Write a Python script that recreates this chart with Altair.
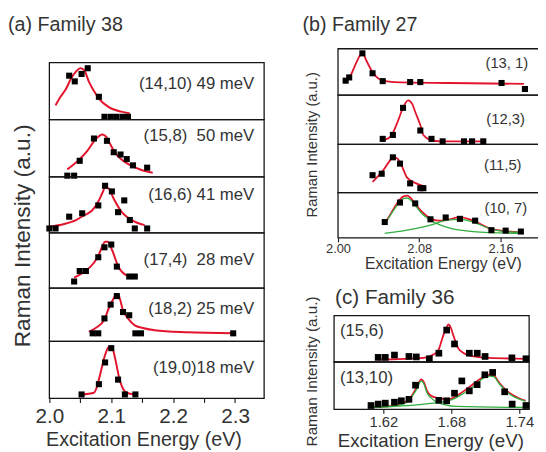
import altair as alt
import pandas as pd

FONT = "Liberation Sans"
RED = "#e3132c"
GREEN = "#2fae3f"
INK = "#333333"
FRAME = "#151515"

# ---------------- data: panel (a) Family 38 ----------------
a_labels = ["(14,10) 49 meV", "(15,8)\u00a0 50 meV", "(16,6) 41 meV",
            "(17,4)\u00a0 28 meV", "(18,2) 25 meV", "(19,0)18 meV"]

a1_pts_E = [2.032, 2.041, 2.052, 2.062, 2.080, 2.089, 2.099, 2.108, 2.118, 2.127]
a1_pts_I = [0.77, 0.67, 0.80, 0.90, 0.40, 0.05, 0.05, 0.05, 0.05, 0.05]
a1_fit_E = [2.010, 2.018, 2.027, 2.035, 2.043, 2.050, 2.056, 2.064, 2.072, 2.080, 2.096, 2.116, 2.130]
a1_fit_I = [0.25, 0.40, 0.54, 0.72, 0.84, 0.90, 0.87, 0.66, 0.50, 0.37, 0.22, 0.14, 0.11]

a2_pts_E = [2.029, 2.040, 2.049, 2.072, 2.093, 2.104, 2.115, 2.125, 2.135, 2.158]
a2_pts_I = [0.02, 0.02, 0.28, 0.67, 0.63, 0.43, 0.39, 0.31, 0.20, 0.16]
a2_fit_E = [2.029, 2.049, 2.061, 2.072, 2.080, 2.085, 2.091, 2.096, 2.106, 2.119, 2.133, 2.151, 2.167]
a2_fit_I = [0.13, 0.31, 0.45, 0.62, 0.71, 0.74, 0.71, 0.62, 0.42, 0.28, 0.19, 0.11, 0.07]

a3_pts_E = [2.000, 2.010, 2.032, 2.053, 2.079, 2.090, 2.101, 2.111, 2.121, 2.130, 2.138, 2.158]
a3_pts_I = [0.08, 0.08, 0.29, 0.35, 0.49, 0.84, 0.74, 0.37, 0.58, 0.23, 0.08, 0.08]
a3_fit_E = [2.000, 2.024, 2.043, 2.057, 2.069, 2.080, 2.086, 2.090, 2.096, 2.104, 2.117, 2.133, 2.154]
a3_fit_I = [0.11, 0.16, 0.23, 0.32, 0.40, 0.58, 0.72, 0.81, 0.79, 0.61, 0.37, 0.23, 0.14]

a4_pts_E = [2.040, 2.049, 2.059, 2.079, 2.089, 2.100, 2.109, 2.129, 2.138]
a4_pts_I = [0.12, 0.31, 0.31, 0.56, 0.74, 0.79, 0.39, 0.21, 0.21]
a4_fit_E = [2.040, 2.058, 2.072, 2.080, 2.086, 2.090, 2.094, 2.101, 2.111, 2.125, 2.141]
a4_fit_I = [0.19, 0.31, 0.46, 0.61, 0.77, 0.84, 0.84, 0.70, 0.40, 0.23, 0.19]

a5_pts_E = [2.070, 2.079, 2.089, 2.099, 2.109, 2.119, 2.129, 2.139, 2.148, 2.297]
a5_pts_I = [0.15, 0.15, 0.43, 0.69, 0.85, 0.55, 0.49, 0.15, 0.15, 0.15]
a5_fit_E = [2.064, 2.076, 2.088, 2.097, 2.104, 2.109, 2.113, 2.119, 2.127, 2.138, 2.151, 2.170, 2.223, 2.297]
a5_fit_I = [0.18, 0.26, 0.39, 0.65, 0.81, 0.89, 0.83, 0.58, 0.43, 0.30, 0.25, 0.21, 0.17, 0.15]

a6_pts_E = [2.052, 2.080, 2.090, 2.100, 2.111, 2.122, 2.139]
a6_pts_I = [0.07, 0.25, 0.63, 0.88, 0.33, 0.07, 0.07]
a6_fit_E = [2.053, 2.072, 2.077, 2.082, 2.090, 2.095, 2.098, 2.102, 2.106, 2.114, 2.119, 2.125, 2.138]
a6_fit_I = [0.07, 0.10, 0.21, 0.42, 0.76, 0.89, 0.91, 0.88, 0.71, 0.31, 0.17, 0.10, 0.07]

a_ticks = [2.0, 2.05, 2.1, 2.15, 2.2, 2.25, 2.3]

# ---------------- data: panel (b) Family 27 ----------------
b_labels = ["(13, 1)", "(12,3)", "(11,5)", "(10, 7)"]

b1_pts_E = [2.0075, 2.011, 2.024, 2.034, 2.044, 2.071, 2.081, 2.161, 2.184]
b1_pts_I = [0.31, 0.38, 0.90, 0.47, 0.30, 0.28, 0.28, 0.26, 0.13]
b1_fit_E = [2.005, 2.009, 2.013, 2.018, 2.024, 2.028, 2.033, 2.042, 2.055, 2.110, 2.183]
b1_fit_I = [0.28, 0.34, 0.45, 0.70, 0.91, 0.74, 0.53, 0.33, 0.28, 0.26, 0.24]

b2_pts_E = [2.044, 2.054, 2.064, 2.081, 2.092, 2.103, 2.124, 2.132, 2.143]
b2_pts_I = [0.11, 0.19, 0.74, 0.28, 0.11, 0.06, 0.06, 0.06, 0.06]
b2_fit_E = [2.046, 2.052, 2.058, 2.064, 2.069, 2.073, 2.076, 2.081, 2.084, 2.091, 2.101, 2.143]
b2_fit_I = [0.09, 0.16, 0.42, 0.74, 0.89, 0.82, 0.66, 0.39, 0.19, 0.09, 0.06, 0.06]

b3_pts_E = [2.034, 2.043, 2.054, 2.061, 2.071, 2.081, 2.084]
b3_pts_I = [0.36, 0.39, 0.73, 0.60, 0.19, 0.09, 0.09]
b3_fit_E = [2.034, 2.039, 2.044, 2.050, 2.054, 2.058, 2.062, 2.068, 2.078, 2.086]
b3_fit_I = [0.22, 0.33, 0.45, 0.63, 0.73, 0.71, 0.59, 0.31, 0.18, 0.12]

b4_pts_E = [2.046, 2.061, 2.076, 2.091, 2.106, 2.120, 2.135, 2.151, 2.165, 2.180]
b4_pts_I = [0.35, 0.78, 0.76, 0.41, 0.45, 0.42, 0.38, 0.17, 0.16, 0.14]
b4_fit_E = [2.046, 2.050, 2.055, 2.061, 2.065, 2.068, 2.071, 2.076, 2.082, 2.091, 2.099,
            2.108, 2.120, 2.128, 2.136, 2.149, 2.164, 2.180]
b4_fit_I = [0.32, 0.46, 0.65, 0.85, 0.92, 0.93, 0.89, 0.75, 0.59, 0.43, 0.38,
            0.40, 0.46, 0.42, 0.35, 0.21, 0.15, 0.12]
b4_g1_E = [2.046, 2.050, 2.055, 2.061, 2.065, 2.068, 2.071, 2.076, 2.082, 2.091, 2.101, 2.111, 2.133, 2.180]
b4_g1_I = [0.32, 0.45, 0.62, 0.80, 0.87, 0.88, 0.84, 0.72, 0.55, 0.39, 0.28, 0.21, 0.14, 0.10]
b4_g2_E = [2.046, 2.068, 2.091, 2.107, 2.120, 2.133, 2.149, 2.164, 2.180]
b4_g2_I = [0.10, 0.17, 0.28, 0.39, 0.41, 0.35, 0.21, 0.14, 0.12]

b_ticks = [2.00, 2.08, 2.16]

# ---------------- data: panel (c) Family 36 ----------------
c_labels = ["(15,6)", "(13,10)"]

c1_pts_E = [1.6154, 1.6217, 1.6298, 1.6426, 1.6491, 1.6606, 1.6690, 1.6759, 1.6828,
            1.6959, 1.7029, 1.7098, 1.7335, 1.7459]
c1_pts_I = [0.10, 0.10, 0.15, 0.12, 0.11, 0.07, 0.19, 0.69, 0.39, 0.19, 0.19, 0.12, 0.09, 0.07]
c1_fit_E = [1.6150, 1.6557, 1.6643, 1.6687, 1.6730, 1.6757, 1.6774, 1.6796, 1.6817,
            1.6861, 1.6904, 1.6963, 1.7137, 1.7455]
c1_fit_I = [0.05, 0.09, 0.16, 0.26, 0.58, 0.74, 0.81, 0.74, 0.58, 0.30, 0.20, 0.14, 0.09, 0.07]

c2_pts_E = [1.6091, 1.6154, 1.6217, 1.6298, 1.6359, 1.6426, 1.6484, 1.6690, 1.6759,
            1.6828, 1.6893, 1.6959, 1.7028, 1.7096, 1.7165, 1.7271, 1.7337, 1.7459]
c2_pts_I = [0.08, 0.11, 0.13, 0.15, 0.18, 0.21, 0.51, 0.19, 0.18,
            0.34, 0.60, 0.39, 0.52, 0.73, 0.78, 0.37, 0.11, 0.08]
c2_fit_E = [1.6093, 1.6296, 1.6411, 1.6452, 1.6484, 1.6513, 1.6533, 1.6557, 1.6585, 1.6626,
            1.6672, 1.6774, 1.6876, 1.6991, 1.7061, 1.7107, 1.7150, 1.7183, 1.7223, 1.7310,
            1.7383, 1.7455]
c2_fit_I = [0.04, 0.08, 0.18, 0.29, 0.42, 0.56, 0.63, 0.58, 0.39, 0.28,
            0.24, 0.21, 0.33, 0.53, 0.65, 0.70, 0.74, 0.70, 0.56, 0.35,
            0.25, 0.18]
c2_g1_E = [1.6093, 1.6296, 1.6411, 1.6452, 1.6493, 1.6513, 1.6533, 1.6557, 1.6585, 1.6626,
           1.6672, 1.6846, 1.7455]
c2_g1_I = [0.04, 0.07, 0.15, 0.27, 0.42, 0.52, 0.60, 0.54, 0.35, 0.23, 0.15, 0.06, 0.04]
c2_g2_E = [1.6093, 1.6557, 1.6789, 1.6904, 1.7020, 1.7078, 1.7137, 1.7174, 1.7223, 1.7310,
           1.7383, 1.7455]
c2_g2_I = [0.04, 0.11, 0.19, 0.33, 0.53, 0.65, 0.70, 0.69, 0.54, 0.33, 0.23, 0.17]

c_ticks = [1.62, 1.68, 1.74]

# ---------------- layout (pixels inside the chart) ----------------
W, H = 538, 444
A_DOM, A_XR = [2.0, 2.347], [42, 260]
A_Y = [52, 110, 168, 225, 281, 335, 393]
B_DOM, B_XR = [2.0, 2.1988], [335, 540]
B_Y = [38, 85, 135, 184, 230]
C_DOM, C_XR = [1.5765, 1.7487], [331, 529]
C_Y = [309, 356, 404]


def sub(dom, xr, y_top, y_bot, pE, pI, fE, fI, greens=(), axis=None, msize=40, lw=2.0):
    xs = alt.Scale(domain=dom, range=xr, nice=False, zero=False)
    ys = alt.Scale(domain=[0, 1], range=[y_bot, y_top], nice=False, zero=False)
    X = alt.X("E:Q", scale=xs, axis=axis)
    Y = alt.Y("I:Q", scale=ys, axis=None)
    frame = alt.Chart(pd.DataFrame({"E": [dom[0]], "E2": [dom[1]], "I": [0.0], "I2": [1.0]})).mark_rect(
        fillOpacity=0, stroke=FRAME, strokeWidth=1.3
    ).encode(x=X, x2="E2", y=Y, y2="I2")
    layers = [frame]
    layers.append(
        alt.Chart(pd.DataFrame({"E": fE, "I": fI})).mark_line(
            color=RED, strokeWidth=lw, interpolate="monotone"
        ).encode(x=X, y=Y)
    )
    for gE, gI in greens:
        layers.append(
            alt.Chart(pd.DataFrame({"E": gE, "I": gI})).mark_line(
                color=GREEN, strokeWidth=1.3, interpolate="monotone"
            ).encode(x=X, y=Y)
        )
    layers.append(
        alt.Chart(pd.DataFrame({"E": pE, "I": pI})).mark_square(
            size=msize, color="black", opacity=1
        ).encode(x=X, y=Y)
    )
    return alt.layer(*layers)


def txt(s, x, y, size, align="left", angle=0):
    return alt.Chart(pd.DataFrame({"t": [s]})).mark_text(
        align=align, baseline="alphabetic", font=FONT, fontSize=size, color=INK, angle=angle
    ).encode(x=alt.value(x), y=alt.value(y), text="t:N")


def bottom_axis(values, offset, lab_size, lab_pad, title_size, title_x, title_y, expr):
    return alt.Axis(
        orient="bottom", offset=offset, values=values, labelExpr=expr,
        domain=False, grid=False, ticks=True, tickSize=4, tickWidth=1.1, tickColor=FRAME,
        labelFont=FONT, labelFontSize=lab_size, labelColor=INK, labelPadding=lab_pad,
        labelFlush=False, labelOverlap=False,
        title="Excitation Energy (eV)", titleFont=FONT, titleFontSize=title_size,
        titleFontWeight="normal", titleColor=INK, titleX=title_x, titleY=title_y,
        titleBaseline="alphabetic", titleAlign="center", titleAngle=0,
    )


ax_a = bottom_axis(a_ticks, A_Y[-1] - H, 21, 3, 20, 137.5, 47.3,
                   "(round(datum.value*100) % 10 == 0) ? format(datum.value, '.1f') : ''")
ax_b = bottom_axis(b_ticks, B_Y[-1] - H, 13, 1, 16, 441.5, 31.5, "format(datum.value, '.2f')")
ax_c = bottom_axis(c_ticks, C_Y[-1] - H, 15, 1, 19, 428.7, 38, "format(datum.value, '.2f')")

a_data = [(a1_pts_E, a1_pts_I, a1_fit_E, a1_fit_I), (a2_pts_E, a2_pts_I, a2_fit_E, a2_fit_I),
          (a3_pts_E, a3_pts_I, a3_fit_E, a3_fit_I), (a4_pts_E, a4_pts_I, a4_fit_E, a4_fit_I),
          (a5_pts_E, a5_pts_I, a5_fit_E, a5_fit_I), (a6_pts_E, a6_pts_I, a6_fit_E, a6_fit_I)]
b_data = [(b1_pts_E, b1_pts_I, b1_fit_E, b1_fit_I), (b2_pts_E, b2_pts_I, b2_fit_E, b2_fit_I),
          (b3_pts_E, b3_pts_I, b3_fit_E, b3_fit_I), (b4_pts_E, b4_pts_I, b4_fit_E, b4_fit_I)]
c_data = [(c1_pts_E, c1_pts_I, c1_fit_E, c1_fit_I), (c2_pts_E, c2_pts_I, c2_fit_E, c2_fit_I)]

layers = []
for i, (pE, pI, fE, fI) in enumerate(a_data):
    layers.append(sub(A_DOM, A_XR, A_Y[i], A_Y[i + 1], pE, pI, fE, fI,
                      axis=ax_a if i == 5 else None, msize=38, lw=2.0))
for i, (pE, pI, fE, fI) in enumerate(b_data):
    greens = [(b4_g1_E, b4_g1_I), (b4_g2_E, b4_g2_I)] if i == 3 else ()
    layers.append(sub(B_DOM, B_XR, B_Y[i], B_Y[i + 1], pE, pI, fE, fI, greens=greens,
                      axis=ax_b if i == 3 else None, msize=38, lw=1.8))
for i, (pE, pI, fE, fI) in enumerate(c_data):
    greens = [(c2_g1_E, c2_g1_I), (c2_g2_E, c2_g2_I)] if i == 1 else ()
    layers.append(sub(C_DOM, C_XR, C_Y[i], C_Y[i + 1], pE, pI, fE, fI, greens=greens,
                      axis=ax_c if i == 1 else None, msize=46, lw=1.8))

# subpanel labels
a_lab_y = [78.7, 132, 191.3, 258, 307, 367]
for s, y in zip(a_labels, a_lab_y):
    layers.append(txt(s, 250, y, 17, align="right"))
b_lab_x = [528, 524.7, 521.3, 527]
b_lab_y = [58, 114.7, 161.3, 204.7]
for s, x, y in zip(b_labels, b_lab_x, b_lab_y):
    layers.append(txt(s, x, y, 15, align="right"))
for s, y in zip(c_labels, [329.3, 377]):
    layers.append(txt(s, 337, y, 17))

# panel titles and y titles
layers.append(txt("(a) Family 38", 0, 20.3, 20))
layers.append(txt("(b) Family 27", 299, 20.3, 20))
layers.append(txt("(c) Family 36", 332, 297, 21))
layers.append(txt("Raman Intensity (a.u.)", 22, 228, 23, align="center", angle=270))
layers.append(txt("Raman Intensity (a.u.)", 314, 135.5, 15, align="center", angle=270))
layers.append(txt("Raman Intensity (a.u.)", 314, 365.5, 15.5, align="center", angle=270))

chart = alt.layer(*layers).resolve_scale(x="independent", y="independent").properties(
    width=W, height=H, padding=0, autosize=alt.AutoSizeParams(type="none")
).configure_view(stroke="transparent")

chart.save("out.html", embed_options={"renderer": "svg", "actions": False})
